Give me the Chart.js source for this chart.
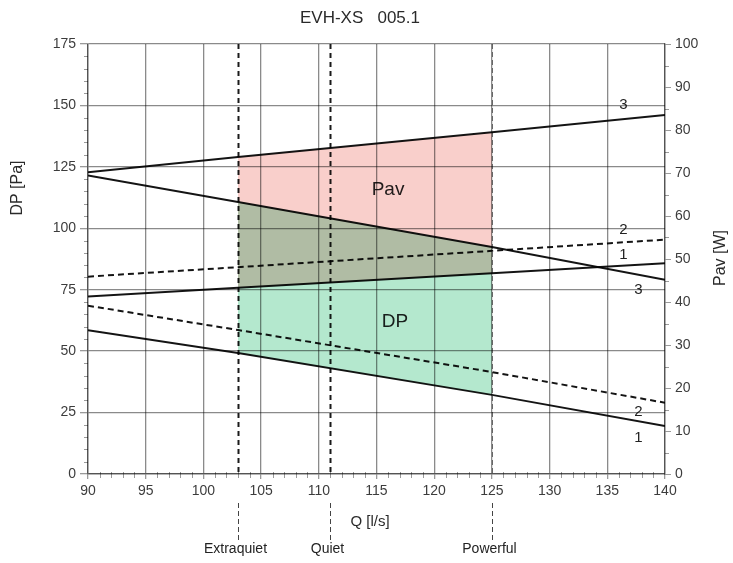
<!DOCTYPE html>
<html><head><meta charset="utf-8">
<script src="https://cdn.jsdelivr.net/npm/chart.js@4/dist/chart.umd.min.js"></script>
<style>html,body{margin:0;padding:0;background:#fff}#wrap{width:733px;height:563px;position:relative}</style>
</head><body><div id="wrap"><canvas id="c"></canvas></div>
<script>
const chartTitle = 'EVH-XS   005.1';
const xAxisTitle = 'Q [l/s]';
const yLeftTitle = 'DP [Pa]';
const yRightTitle = 'Pav [W]';
const qValues = [90, 103, 125, 140];
const dp1 = [58.5, 49.2, 32.2, 19.5];
const dp2 = [68.5, 58.6, 41.5, 29.0];
const dp3 = [121.5, 110.7, 92.4, 79.0];
const pav1 = [41.3, 43.3, 46.7, 49.0];
const pav2 = [45.9, 48.1, 51.9, 54.5];
const pav3 = [70.2, 73.7, 79.5, 83.5];
const modeQ = [103, 111, 125];
const modeNames = ['Extraquiet', 'Quiet', 'Powerful'];
const zoneLabels = ['Pav', 'DP'];
const curveNames = ['1', '2', '3'];

const shadeFrom = modeQ[0], shadeTo = modeQ[2];
const pts = ys => qValues.map((q, i) => ({x: q, y: ys[i]}));
const shadePts = ys => pts(ys).filter(p => p.x >= shadeFrom && p.x <= shadeTo);

const FONT = '"Liberation Sans", Arial, sans-serif';
const GRID = '#8a8a8a';
const AXIS = '#9a9a9a';
const TXT = '#3c3c3c';

const line = (label, ys, axis, dashed) => ({
  label, data: pts(ys), yAxisID: axis, borderColor: '#141414', borderWidth: 2,
  borderDash: dashed ? [6, 4] : [], pointRadius: 0, tension: 0, fill: false
});
const zone = (label, ys, axis, color, fill) => ({
  label, data: shadePts(ys), yAxisID: axis, borderColor: 'rgba(0,0,0,0)', borderWidth: 0,
  showLine: false, pointRadius: 0, tension: 0, fill: fill, backgroundColor: color
});

const multiplyPlugin = {
  id: 'multiply',
  beforeDraw(chart) { chart.ctx.globalCompositeOperation = 'multiply'; }
};

const extrasPlugin = {
  id: 'extras',
  beforeDatasetsDraw(chart) {
    const {ctx, chartArea: a, scales} = chart;
    const x = scales.x, yL = scales.y, yR = scales.yR;
    ctx.save();
    ctx.strokeStyle = AXIS; ctx.lineWidth = 1;
    for (let v = 90; v <= 140; v++) {
      if (v % 5 === 0) continue;
      const px = Math.round(x.getPixelForValue(v)) + 0.5;
      ctx.beginPath(); ctx.moveTo(px, a.bottom - 2); ctx.lineTo(px, a.bottom + 4); ctx.stroke();
    }
    for (let v = 0; v <= 175; v += 5) {
      if (v % 25 === 0) continue;
      const py = Math.round(yL.getPixelForValue(v)) + 0.5;
      ctx.beginPath(); ctx.moveTo(a.left - 4, py); ctx.lineTo(a.left, py); ctx.stroke();
    }
    for (let v = 0; v <= 100; v += 5) {
      if (v % 10 === 0) continue;
      const py = Math.round(yR.getPixelForValue(v)) + 0.5;
      ctx.beginPath(); ctx.moveTo(a.right, py); ctx.lineTo(a.right + 4, py); ctx.stroke();
    }
    ctx.restore();
  },
  afterDatasetsDraw(chart) {
    const {ctx, chartArea: a, scales} = chart;
    const x = scales.x, yL = scales.y;
    ctx.save();
    modeQ.forEach((q, i) => {
      const px = Math.round(x.getPixelForValue(q)) + 0.5;
      const last = i === modeQ.length - 1;
      ctx.strokeStyle = last ? '#777' : '#1a1a1a';
      ctx.lineWidth = last ? 1 : 2;
      ctx.setLineDash(last ? [5, 3] : [5, 4]);
      ctx.beginPath(); ctx.moveTo(px, a.top); ctx.lineTo(px, a.bottom); ctx.stroke();
      ctx.strokeStyle = '#444'; ctx.lineWidth = 1; ctx.setLineDash([5, 3]);
      ctx.beginPath(); ctx.moveTo(px, a.bottom + 29); ctx.lineTo(px, a.bottom + 66); ctx.stroke();
      ctx.setLineDash([]);
      ctx.fillStyle = '#222'; ctx.font = '14px ' + FONT;
      ctx.textAlign = 'center'; ctx.textBaseline = 'middle';
      ctx.fillText(modeNames[i], px - 3, a.bottom + 75);
    });
    ctx.fillStyle = '#222'; ctx.font = '19px ' + FONT;
    ctx.textAlign = 'center'; ctx.textBaseline = 'middle';
    ctx.fillText(zoneLabels[0], x.getPixelForValue(116), yL.getPixelForValue(115.6));
    ctx.fillText(zoneLabels[1], x.getPixelForValue(116.6), yL.getPixelForValue(61.9));
    ctx.font = '15px ' + FONT; ctx.fillStyle = '#222';
    const cl = [
      [curveNames[2], 136.4, 150.2], [curveNames[1], 136.4, 99.3], [curveNames[0], 136.4, 89.1],
      [curveNames[2], 137.7, 74.9], [curveNames[1], 137.7, 25.2], [curveNames[0], 137.7, 14.7]
    ];
    cl.forEach(([t, q, v]) => ctx.fillText(t, x.getPixelForValue(q), yL.getPixelForValue(v)));
    ctx.fillStyle = '#2a2a2a';
    ctx.font = '17px ' + FONT;
    ctx.fillText(chartTitle, 360, 18);
    ctx.font = '15px ' + FONT;
    ctx.fillText(xAxisTitle, 370, a.bottom + 48);
    ctx.font = '16px ' + FONT;
    ctx.save(); ctx.translate(18, 188); ctx.rotate(-Math.PI / 2); ctx.fillText(yLeftTitle, 0, 0); ctx.restore();
    ctx.save(); ctx.translate(721, 258); ctx.rotate(-Math.PI / 2); ctx.fillText(yRightTitle, 0, 0); ctx.restore();
    ctx.restore();
  }
};

new Chart(document.getElementById('c'), {
  type: 'line',
  data: {
    datasets: [
      line('DP 1', dp1, 'y', false),
      line('DP 2', dp2, 'y', true),
      line('DP 3', dp3, 'y', false),
      line('Pav 1', pav1, 'yR', false),
      line('Pav 2', pav2, 'yR', true),
      line('Pav 3', pav3, 'yR', false),
      zone('DP zone', dp3, 'y', '#b4e8ce', '+1'),
      zone('DP zone low', dp1, 'y', 'rgba(0,0,0,0)', false),
      zone('Pav zone', pav3, 'yR', '#f9cfcb', '+1'),
      zone('Pav zone low', pav1, 'yR', 'rgba(0,0,0,0)', false)
    ]
  },
  options: {
    responsive: true, maintainAspectRatio: false, animation: false,
    layout: {padding: {top: 44, left: 0, right: 0, bottom: 0}},
    plugins: {legend: {display: false}, tooltip: {enabled: false}, title: {display: false}},
    scales: {
      x: {
        type: 'linear', min: 90, max: 140,
        ticks: {stepSize: 5, color: TXT, font: {family: FONT, size: 14}, padding: 4, maxRotation: 0},
        grid: {color: GRID, lineWidth: 1.3, tickLength: 5, tickColor: AXIS},
        border: {color: AXIS, width: 1.5},
        afterFit: s => { s.height = 89; }
      },
      y: {
        type: 'linear', position: 'left', min: 0, max: 175,
        ticks: {stepSize: 25, color: TXT, font: {family: FONT, size: 14}, padding: 4},
        grid: {color: GRID, lineWidth: 1.3, tickLength: 8, tickColor: AXIS},
        border: {color: AXIS, width: 1.5},
        afterFit: s => { s.width = 88; }
      },
      yR: {
        type: 'linear', position: 'right', min: 0, max: 100,
        ticks: {stepSize: 10, color: TXT, font: {family: FONT, size: 14}, padding: 4},
        grid: {drawOnChartArea: false, tickLength: 6, tickColor: AXIS, color: AXIS},
        border: {color: AXIS, width: 1.5},
        afterFit: s => { s.width = 68; }
      }
    }
  },
  plugins: [multiplyPlugin, extrasPlugin]
});
</script>
</body></html>
